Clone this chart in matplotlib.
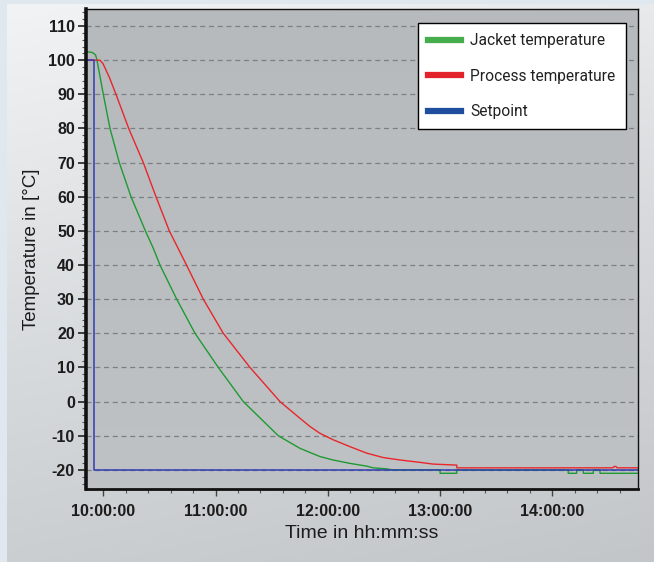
import matplotlib
matplotlib.use("Agg")
import matplotlib.pyplot as plt
import matplotlib.dates as mdates
from matplotlib.colors import LinearSegmentedColormap
from matplotlib.lines import Line2D
import numpy as np
import pandas as pd

plt.rcParams["axes.unicode_minus"] = False

# readings taken off the chart (time of day, degC)
jacket_time = ["09:50:45", "09:53:58", "09:55:50", "09:56:38", "10:00:00", "10:03:35",
               "10:08:33", "10:14:49", "10:22:30", "10:26:44", "10:30:18", "10:39:14",
               "10:49:01", "11:01:28", "11:14:50", "11:33:32", "11:45:08", "11:50:29",
               "11:55:50", "12:02:47", "12:11:52", "12:20:48", "12:24:10", "12:31:29",
               "12:34:19", "13:00:00", "13:00:01", "13:08:55", "13:08:56", "14:08:30",
               "14:08:31", "14:13:01", "14:13:02", "14:16:34", "14:16:35", "14:21:55",
               "14:21:56", "14:25:29", "14:25:30", "14:45:48"]
jacket_temp = [102.5, 102.3, 101.6, 100.0, 90.0, 80.0,
               70.0, 60.0, 50.0, 44.9, 40.0, 30.0,
               20.0, 10.0, 0.0, -10.0, -13.7, -14.9,
               -16.1, -17.1, -18.1, -18.9, -19.4, -19.7,
               -20.0, -20.0, -21.0, -21.0, -20.0, -20.0,
               -21.0, -21.0, -20.0, -20.0, -21.0, -21.0,
               -20.0, -20.0, -21.0, -21.0]

process_time = ["09:50:45", "09:58:14", "09:59:50", "10:03:13", "10:06:47", "10:13:35",
                "10:21:23", "10:28:10", "10:35:17", "10:44:28", "10:53:27",
                "11:04:08", "11:18:25", "11:34:27", "11:45:08", "11:50:29", "11:55:50",
                "12:02:56", "12:11:52", "12:20:48", "12:29:40", "12:38:35", "12:49:17",
                "12:56:14", "13:08:55", "13:08:56", "14:32:26", "14:33:00", "14:34:00",
                "14:34:34", "14:45:48"]
process_temp = [100.0, 100.0, 99.0, 95.0, 90.0, 80.0,
                70.0, 60.0, 50.0, 40.0, 30.0,
                20.0, 10.0, 0.0, -4.9, -7.3, -9.3,
                -11.2, -13.2, -15.1, -16.4, -17.1, -17.8,
                -18.3, -18.6, -19.4, -19.4, -19.0, -19.0,
                -19.4, -19.4]

setpoint_time = ["09:50:45", "09:54:46", "09:54:46", "14:45:48"]
setpoint_temp = [100.0, 100.0, -20.0, -20.0]

series_labels = ["Jacket temperature", "Process temperature", "Setpoint"]
yticks = list(range(-20, 111, 10))


def to_dt(times):
    return pd.to_datetime(["2000-01-01 " + t for t in times])


W, H = 654, 562
fig = plt.figure(figsize=(W / 100, H / 100), dpi=100, facecolor="#dfe7ef")

# soft grey panel behind the chart
bg = fig.add_axes([7 / W, 0, 1 - 7 / W, 1 - 4 / H], zorder=-5)
gy, gx = np.mgrid[0:1:200j, 0:1:200j]
panel_cmap = LinearSegmentedColormap.from_list("panel", ["#f2f3f4", "#d8dbdd", "#c3c6c8"])
bg.imshow(0.8 * gy + 0.2 * gx, cmap=panel_cmap, aspect="auto", extent=[0, 1, 0, 1], vmin=0, vmax=1)
bg.axis("off")

ax = fig.add_axes([86 / W, (H - 489) / H, (638 - 86) / W, (489 - 9) / H])
plot_cmap = LinearSegmentedColormap.from_list("plotbg", ["#b6babd", "#bfc2c4"])
ax.imshow(np.linspace(0, 1, 100).reshape(-1, 1), cmap=plot_cmap, aspect="auto",
          extent=[0, 1, 0, 1], transform=ax.transAxes, zorder=0)

ax.plot(to_dt(jacket_time), jacket_temp, color="#1e9a32", lw=1.0, zorder=3)
ax.plot(to_dt(process_time), process_temp, color="#e8262b", lw=1.0, zorder=3)
ax.plot(to_dt(setpoint_time), setpoint_temp, color="#2e3db4", lw=1.1, zorder=4)

ax.set_xlim(pd.Timestamp("2000-01-01 09:50:45"), pd.Timestamp("2000-01-01 14:45:48"))
ax.set_ylim(-25.6, 115)

ax.set_yticks(yticks)
ax.set_yticks(np.arange(-24, 115, 2), minor=True)
ax.xaxis.set_major_locator(mdates.HourLocator())
ax.xaxis.set_minor_locator(mdates.MinuteLocator(byminute=[12, 24, 36, 48]))
ax.xaxis.set_major_formatter(mdates.DateFormatter("%H:%M:%S"))

ax.grid(axis="y", which="major", color="#7d8083", ls=(0, (4, 3)), lw=0.9, zorder=1)
ax.set_axisbelow(False)

for lbl in ax.get_xticklabels() + ax.get_yticklabels():
    lbl.set_fontfamily("Liberation Sans")
    lbl.set_fontweight("bold")
    lbl.set_fontsize(11.5)
    lbl.set_color("#1c1c1c")

ax.tick_params(axis="y", which="major", length=6, width=1.2, color="#222222", pad=2)
ax.tick_params(axis="y", which="minor", length=3, width=0.8, color="#555555")
ax.tick_params(axis="x", which="major", length=5, width=1.0, color="#444444", pad=6)
ax.tick_params(axis="x", which="minor", length=3, width=0.8, color="#555555")

ax.spines["left"].set_linewidth(2.6)
ax.spines["bottom"].set_linewidth(2.0)
ax.spines["top"].set_linewidth(1.0)
ax.spines["right"].set_linewidth(1.0)
for s in ax.spines.values():
    s.set_color("#111111")
    s.set_zorder(6)

ax.set_xlabel("Time in hh:mm:ss", fontfamily="Liberation Sans", fontsize=14,
              color="#1c1c1c", labelpad=4)
ax.set_ylabel("Temperature in [°C]", fontfamily="Liberation Sans", fontsize=13.5,
              color="#1c1c1c", labelpad=6)

handles = [Line2D([], [], color="#45ad4b", lw=4.5),
           Line2D([], [], color="#e3232b", lw=4.5),
           Line2D([], [], color="#1f4e9f", lw=4.5)]
leg = ax.legend(handles, series_labels, loc="upper right", bbox_to_anchor=(0.978, 0.971),
                borderaxespad=0, fancybox=False, framealpha=1, edgecolor="black",
                prop={"family": "Roboto", "size": 11.2}, handlelength=2.1,
                handletextpad=0.6, labelspacing=1.32, borderpad=0.65)
leg.get_frame().set_linewidth(1.0)
for t in leg.get_texts():
    t.set_color("#222222")
leg.set_zorder(10)

fig.savefig("out.png", dpi=100, facecolor=fig.get_facecolor())
